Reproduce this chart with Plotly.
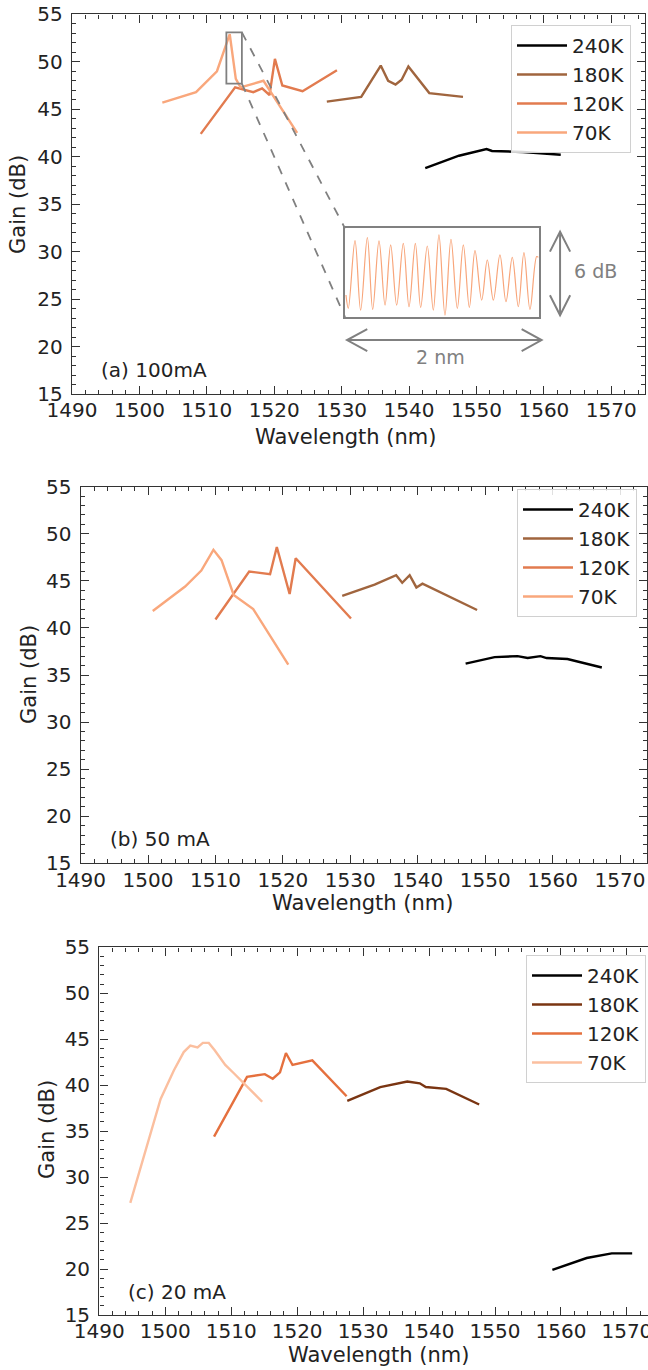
import plotly.graph_objects as go

# ---------------- data ----------------
temps = ["240K", "180K", "120K", "70K"]

# (a) 100 mA
a_240_x = [1542.4, 1547.4, 1551.5, 1552.3, 1556.9, 1562.5]
a_240_y = [38.8, 40.1, 40.8, 40.6, 40.5, 40.2]
a_180_x = [1527.8, 1532.9, 1535.8, 1536.9, 1538.0, 1538.9, 1539.9, 1543.0, 1548.0]
a_180_y = [45.8, 46.3, 49.6, 48.0, 47.6, 48.1, 49.5, 46.7, 46.3]
a_120_x = [1509.1, 1514.2, 1516.9, 1518.2, 1519.3, 1520.1, 1521.2, 1524.2, 1529.3]
a_120_y = [42.4, 47.3, 46.8, 47.2, 46.5, 50.3, 47.5, 46.9, 49.1]
a_70_x = [1503.4, 1508.4, 1511.5, 1513.4, 1514.3, 1515.0, 1518.4, 1523.4]
a_70_y = [45.7, 46.8, 49.0, 52.9, 48.2, 47.3, 48.0, 42.5]

# (b) 50 mA
b_240_x = [1547.1, 1551.4, 1554.8, 1556.3, 1558.2, 1559.1, 1562.2, 1567.3]
b_240_y = [36.2, 36.9, 37.0, 36.8, 37.0, 36.8, 36.7, 35.8]
b_180_x = [1528.8, 1533.6, 1536.8, 1537.7, 1538.8, 1539.8, 1540.7, 1548.8]
b_180_y = [43.4, 44.6, 45.6, 44.8, 45.6, 44.3, 44.7, 41.9]
b_120_x = [1510.0, 1515.0, 1518.1, 1519.1, 1521.0, 1521.9, 1530.1]
b_120_y = [40.9, 46.0, 45.7, 48.6, 43.6, 47.4, 41.0]
b_70_x = [1500.7, 1505.5, 1507.9, 1509.7, 1510.9, 1512.7, 1515.6, 1520.8]
b_70_y = [41.8, 44.4, 46.1, 48.3, 47.2, 43.5, 42.0, 36.1]

# (c) 20 mA
c_240_x = [1558.7, 1563.9, 1567.7, 1570.8]
c_240_y = [19.9, 21.2, 21.7, 21.7]
c_180_x = [1527.6, 1532.6, 1536.7, 1538.6, 1539.5, 1542.6, 1547.6]
c_180_y = [38.3, 39.8, 40.4, 40.2, 39.8, 39.6, 37.9]
c_120_x = [1507.4, 1512.4, 1515.1, 1516.3, 1517.4, 1518.3, 1519.3, 1522.3, 1527.5]
c_120_y = [34.4, 40.9, 41.2, 40.7, 41.4, 43.5, 42.2, 42.7, 38.8]
c_70_x = [1494.7, 1499.3, 1501.3, 1502.8, 1503.8, 1504.9, 1505.7, 1506.6, 1507.5, 1509.1, 1510.4, 1514.7]
c_70_y = [27.2, 38.5, 41.6, 43.6, 44.3, 44.1, 44.6, 44.6, 43.8, 42.2, 41.3, 38.2]

# inset: fine spectrum (offset in nm, relative dB)
inset_x = [0.010, 0.034, 0.103, 0.161, 0.230, 0.285, 0.350, 0.412, 0.470, 0.532, 0.600, 0.659,
           0.724, 0.779, 0.847, 0.909, 0.967, 1.029, 1.091, 1.156, 1.218, 1.280, 1.338, 1.407,
           1.465, 1.527, 1.595, 1.657, 1.722, 1.784, 1.842, 1.904, 1.973, 1.990]
inset_y = [1.47, 0.57, 5.16, 0.45, 5.37, 0.50, 5.14, 0.79, 4.87, 0.79, 4.98, 0.68,
           4.98, 0.63, 4.80, 0.45, 5.55, 0.11, 5.25, 0.57, 4.87, 0.63, 4.48, 1.13,
           3.85, 1.13, 4.19, 1.02, 4.03, 0.68, 4.35, 0.50, 4.08, 4.03]

# zoom window and inset placement (data coords of panel a)
zoom_x = [1512.9, 1515.2]
zoom_y = [47.7, 53.1]
inset_box_x = [1530.5, 1559.4]
inset_box_y = [23.1, 32.45]

colors_ab = ["#000000", "#a0653e", "#e27b4f", "#f9a77c"]
colors_c = ["#000000", "#7a3512", "#e5703e", "#fbbf9f"]

W, H = 648, 1370
FONT = "DejaVu Sans"
GRAY = "#808080"


def px_x(p):
    return p / W


def px_y(p):
    return 1 - p / H


fig = go.Figure()

panels = [
    ("x", "y", "legend", colors_ab,
     [(a_240_x, a_240_y), (a_180_x, a_180_y), (a_120_x, a_120_y), (a_70_x, a_70_y)]),
    ("x2", "y2", "legend2", colors_ab,
     [(b_240_x, b_240_y), (b_180_x, b_180_y), (b_120_x, b_120_y), (b_70_x, b_70_y)]),
    ("x3", "y3", "legend3", colors_c,
     [(c_240_x, c_240_y), (c_180_x, c_180_y), (c_120_x, c_120_y), (c_70_x, c_70_y)]),
]

for xa, ya, leg, cols, series in panels:
    for name, col, (xs, ys) in zip(temps, cols, series):
        fig.add_trace(go.Scatter(x=xs, y=ys, mode="lines", name=name,
                                 line=dict(color=col, width=2.4),
                                 xaxis=xa, yaxis=ya, legend=leg))

# inset trace
fig.add_trace(go.Scatter(x=inset_x, y=inset_y, mode="lines",
                         line=dict(color="#f8a57a", width=1.2, shape="spline", smoothing=1.0),
                         xaxis="x4", yaxis="y4", showlegend=False))

tickfont = dict(family=FONT, size=20, color="#222222")


def xaxis_cfg(domain, rng, anchor, mirror=True):
    return dict(domain=domain, range=rng, anchor=anchor, dtick=10, tick0=1490, automargin=False,
                ticks="inside", ticklen=8, tickwidth=1.3, tickcolor="#333333",
                minor=dict(dtick=2, ticks="inside", ticklen=4, tickwidth=1.1, tickcolor="#333333"),
                showline=True, linecolor="#333333", linewidth=1.4, mirror="ticks" if mirror else False,
                showgrid=False, zeroline=False, tickfont=tickfont, ticklabelstandoff=-2,
                ticklabeloverflow="allow")


def yaxis_cfg(domain, anchor, mirror=True):
    return dict(domain=domain, range=[15, 55], anchor=anchor, dtick=5, tick0=15, automargin=False,
                ticks="inside", ticklen=8, tickwidth=1.3, tickcolor="#333333",
                minor=dict(dtick=1, ticks="inside", ticklen=4, tickwidth=1.1, tickcolor="#333333"),
                showline=True, linecolor="#333333", linewidth=1.4, mirror="ticks" if mirror else False,
                showgrid=False, zeroline=False, tickfont=tickfont, ticklabelstandoff=4)


legend_common = dict(font=dict(family=FONT, size=20, color="#222222"), bgcolor="rgba(255,255,255,0.85)",
                     bordercolor="#d0d0d0", borderwidth=1, xanchor="left", yanchor="top",
                     itemwidth=50, tracegroupgap=0)

fig.update_layout(
    template="none",
    width=W, height=H, margin=dict(l=0, r=0, t=0, b=0, autoexpand=False),
    paper_bgcolor="white", plot_bgcolor="white",
    font=dict(family=FONT, color="#222222"),
    xaxis=xaxis_cfg([px_x(72), px_x(645)], [1490, 1575], "y"),
    yaxis=yaxis_cfg([px_y(394), px_y(14.3)], "x"),
    xaxis2=xaxis_cfg([px_x(80.6), px_x(647)], [1490, 1574], "y2"),
    yaxis2=yaxis_cfg([px_y(863.3), px_y(486.7)], "x2"),
    xaxis3=xaxis_cfg([px_x(99.3), 1.0], [1490, 1573.2], "y3"),
    yaxis3=yaxis_cfg([px_y(1315), px_y(947.3)], "x3", mirror=False),
    xaxis4=dict(domain=[px_x(345), px_x(539.3)], range=[0, 2], anchor="y4", showticklabels=False,
                automargin=False, ticks="", showline=True, linecolor=GRAY, linewidth=2, mirror=True,
                showgrid=False, zeroline=False),
    yaxis4=dict(domain=[px_y(316.7), px_y(228.3)], range=[0, 6], anchor="x4", showticklabels=False,
                automargin=False, ticks="", showline=True, linecolor=GRAY, linewidth=2, mirror=True,
                showgrid=False, zeroline=False),
    legend=dict(x=px_x(511), y=px_y(25), **legend_common),
    legend2=dict(x=px_x(517), y=px_y(489), **legend_common),
    legend3=dict(x=px_x(526), y=px_y(955), **legend_common),
)

# ---- shapes for panel (a): zoom box, connectors, arrows ----
shapes = [
    dict(type="rect", xref="x", yref="y", x0=zoom_x[0], x1=zoom_x[1], y0=zoom_y[0], y1=zoom_y[1],
         line=dict(color=GRAY, width=1.8)),
    dict(type="line", xref="x", yref="y", x0=zoom_x[1], y0=zoom_y[1], x1=inset_box_x[0], y1=inset_box_y[1],
         line=dict(color=GRAY, width=1.8, dash="dash")),
    dict(type="line", xref="x", yref="y", x0=zoom_x[1], y0=zoom_y[0], x1=inset_box_x[0], y1=inset_box_y[0],
         line=dict(color=GRAY, width=1.8, dash="dash")),
    # vertical double arrow (6 dB)
    dict(type="line", xref="x", yref="y", x0=1562.4, x1=1562.4, y0=23.3, y1=32.1, line=dict(color=GRAY, width=2)),
    dict(type="path", xref="x", yref="y", path="M 1560.9 30.0 L 1562.4 32.1 L 1563.9 30.0", line=dict(color=GRAY, width=2)),
    dict(type="path", xref="x", yref="y", path="M 1560.9 25.4 L 1562.4 23.3 L 1563.9 25.4", line=dict(color=GRAY, width=2)),
    # horizontal double arrow (2 nm)
    dict(type="line", xref="x", yref="y", x0=1530.8, x1=1559.66, y0=20.68, y1=20.68, line=dict(color=GRAY, width=2)),
    dict(type="path", xref="x", yref="y", path="M 1533.8 21.84 L 1530.8 20.68 L 1533.8 19.52", line=dict(color=GRAY, width=2)),
    dict(type="path", xref="x", yref="y", path="M 1556.7 21.84 L 1559.66 20.68 L 1556.7 19.52", line=dict(color=GRAY, width=2)),
]
fig.update_layout(shapes=shapes)

ann = []
lab_font = dict(family=FONT, size=20, color="#222222")
ann.append(dict(text="(a) 100mA", x=1494.0, y=17.55, xref="x", yref="y", showarrow=False, xanchor="left", font=lab_font))
ann.append(dict(text="(b) 50 mA", x=1494.1, y=17.6, xref="x2", yref="y2", showarrow=False, xanchor="left", font=lab_font))
ann.append(dict(text="(c) 20 mA", x=1494.1, y=17.5, xref="x3", yref="y3", showarrow=False, xanchor="left", font=lab_font))
gfont = dict(family=FONT, size=19, color=GRAY)
ann.append(dict(text="6 dB", x=1567.6, y=27.95, xref="x", yref="y", showarrow=False, font=gfont))
ann.append(dict(text="2 nm", x=1544.6, y=18.9, xref="x", yref="y", showarrow=False, font=gfont))

title_font = dict(family=FONT, size=21, color="#222222")
for cx, cy in [(345, 437), (362, 903), (378, 1355)]:
    ann.append(dict(text="Wavelength (nm)", x=px_x(cx), y=px_y(cy), xref="paper", yref="paper",
                    showarrow=False, font=title_font, xanchor="center", yanchor="middle"))
for cx, cy in [(18, 205), (29, 675), (47, 1130)]:
    ann.append(dict(text="Gain (dB)", x=px_x(cx), y=px_y(cy), xref="paper", yref="paper", textangle=-90,
                    showarrow=False, font=title_font, xanchor="center", yanchor="middle"))
fig.update_layout(annotations=ann)

fig.write_html("out.html", config={"displayModeBar": False},
               post_script="document.body.style.margin='0';document.body.style.overflow='hidden';")
